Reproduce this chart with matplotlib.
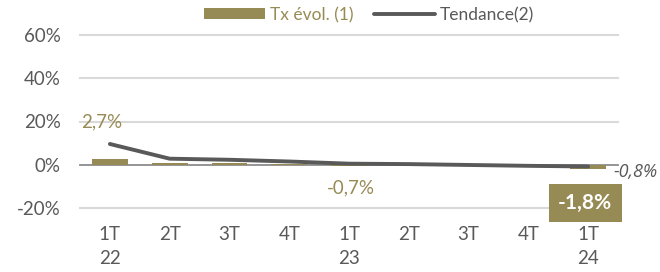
import matplotlib
matplotlib.use("Agg")
import matplotlib.pyplot as plt
import numpy as np

plt.rcParams['font.family'] = ['Lato', 'DejaVu Sans']

categories = ["1T\n22", "2T", "3T", "4T", "1T\n23", "2T", "3T", "4T", "1T\n24"]
tx_evol = [2.7, 0.9, 0.8, 0.2, -0.7, 0.1, -0.3, -0.5, -1.8]
tendance = [9.6, 2.8, 2.3, 1.5, 0.5, 0.3, -0.1, -0.5, -0.8]
yticks = [-20, 0, 20, 40, 60]
ytick_labels = ["-20%", "0%", "20%", "40%", "60%"]

BAR = "#968A55"
LINE = "#595959"
TXT = "#595959"

fig = plt.figure(figsize=(6.6, 2.72), dpi=100)
ax = fig.add_axes([80/660, 1-208/272, 538/660, 173/272])

x = np.arange(len(categories))
bars = ax.bar(x, tx_evol, width=0.6, color=BAR, zorder=3, label="Tx évol. (1)")
line, = ax.plot(x, tendance, color=LINE, lw=2.8, zorder=4, label="Tendance(2)", solid_capstyle='round')

ax.set_xlim(-0.5, len(categories) - 0.5)
ax.set_ylim(-20, 60)
ax.set_yticks(yticks)
ax.set_yticklabels(ytick_labels)
for yv in yticks:
    ax.axhline(yv, color="#8C8C8C" if yv == 0 else "#D9D9D9", lw=1.3 if yv == 0 else 1.5,
               zorder=2 if yv == 0 else 1, clip_on=False)
ax.set_xticks(x)
ax.set_xticklabels(categories, linespacing=1.5)
ax.tick_params(axis='both', length=0, labelsize=13.5, labelcolor=TXT)
ax.tick_params(axis='x', pad=13)
ax.tick_params(axis='y', pad=14)
for s in ax.spines.values():
    s.set_visible(False)

# Data labels
ax.text(-0.13, 20, "2,7%", color=BAR, fontsize=13.5, ha='center', va='center')
ax.text(4.03, -10.5, "-0,7%", color=BAR, fontsize=13.5, ha='center', va='center')
ax.text(7.95, -17.7, "-1,8%", color="white", fontsize=15, fontweight='bold', ha='center', va='center',
        bbox=dict(boxstyle='square,pad=0.45', fc=BAR, ec='none'), zorder=5)
ax.text(8.42, -3.4, "-0,8%", color=TXT, fontsize=13, style='italic', ha='left', va='center',
        clip_on=False, family=['Open Sans', 'DejaVu Sans'])

leg = ax.legend(handles=[bars, line], labels=["Tx évol. (1)", "Tendance(2)"],
                loc='center', bbox_to_anchor=(369/660, 1-15/272), bbox_transform=fig.transFigure,
                ncol=2, frameon=False, fontsize=12.5, handlelength=3.5, handleheight=0.6,
                columnspacing=1.2, handletextpad=0.3)
texts = leg.get_texts()
texts[0].set_color(BAR)
texts[1].set_color(TXT)

fig.savefig("out.png", dpi=100)
